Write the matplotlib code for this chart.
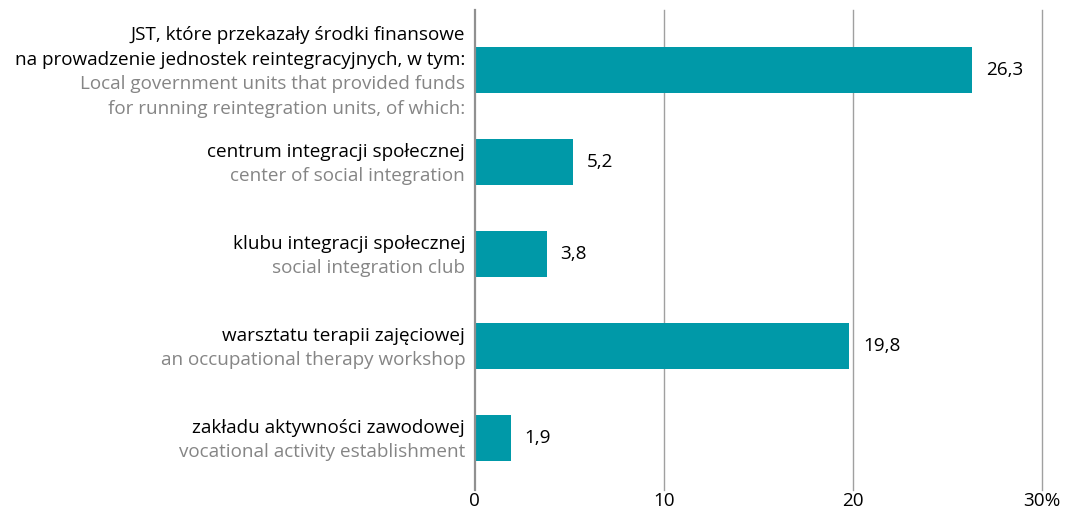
import matplotlib.pyplot as plt
import numpy as np

plt.rcParams['font.family'] = ['Open Sans', 'DejaVu Sans']

labels_pl = [
    ["JST, które przekazały środki finansowe", "na prowadzenie jednostek reintegracyjnych, w tym:"],
    ["centrum integracji społecznej"],
    ["klubu integracji społecznej"],
    ["warsztatu terapii zajęciowej"],
    ["zakładu aktywności zawodowej"],
]
labels_en = [
    ["Local government units that provided funds", "for running reintegration units, of which:"],
    ["center of social integration"],
    ["social integration club"],
    ["an occupational therapy workshop"],
    ["vocational activity establishment"],
]
values = [26.3, 5.2, 3.8, 19.8, 1.9]
xticks = [0, 10, 20, 30]
xtick_labels = ["0", "10", "20", "30%"]

bar_color = "#0099a8"
grid_color = "#a0a0a0"
en_color = "#858585"
fs = 13.6

fig = plt.figure(figsize=(10.72, 5.15), dpi=100)
ax = fig.add_axes([0.443, 0.0485, 0.529, 0.932])

y = np.arange(len(values))
ax.barh(y, values, height=0.5, color=bar_color, zorder=3)
ax.set_ylim(len(values) - 1 + 0.565, -0.652)
ax.set_xlim(0, 30)

# vertical grid + axis line
for t in xticks[1:]:
    ax.axvline(t, color=grid_color, lw=1.0, zorder=1, clip_on=False)
ax.axvline(0, color="#909090", lw=1.6, zorder=4, clip_on=False)

for s in ax.spines.values():
    s.set_visible(False)
ax.set_yticks([])
ax.set_xticks(xticks)
ax.set_xticklabels(xtick_labels, fontsize=fs)
ax.tick_params(axis='x', length=0, pad=1.5)

# value labels
for yi, v in zip(y, values):
    ax.annotate(f"{v:.1f}".replace(".", ","), (v, yi), xytext=(10, 0),
                textcoords='offset points', va='center', ha='left', fontsize=fs)

# two-tone category labels
line_h = 17.6
tr = ax.get_yaxis_transform()
for yi, pl, en in zip(y, labels_pl, labels_en):
    lines = [(s, "black") for s in pl] + [(s, en_color) for s in en]
    n = len(lines)
    for k, (txt, col) in enumerate(lines):
        off = -(k - (n - 1) / 2) * line_h - 1.5
        ax.annotate(txt, (0, yi), xycoords=tr, xytext=(-7, off),
                    textcoords='offset points', ha='right', va='center',
                    fontsize=fs, color=col)

fig.savefig("out.png", dpi=100)
